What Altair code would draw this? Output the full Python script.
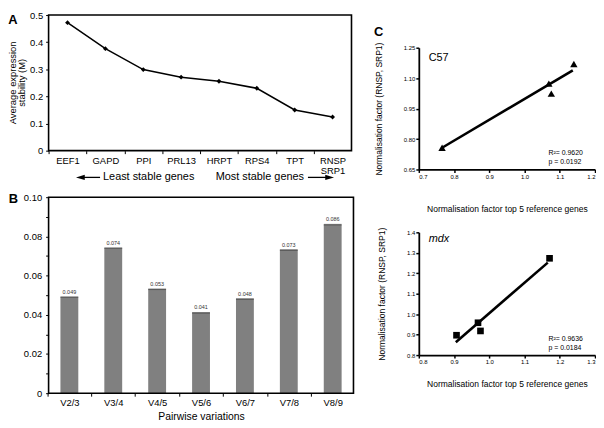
import altair as alt
import pandas as pd

FONT = "Liberation Sans"

# ---------------- Panel A data ----------------
genes = ["EEF1", "GAPD", "PPI", "PRL13", "HRPT", "RPS4", "TPT", "RNSP SRP1"]
stability = [0.472, 0.376, 0.299, 0.271, 0.256, 0.230, 0.150, 0.124]
a_ticks = [0, 0.1, 0.2, 0.3, 0.4, 0.5]

# ---------------- Panel B data ----------------
pairs = ["V2/3", "V3/4", "V4/5", "V5/6", "V6/7", "V7/8", "V8/9"]
pairwise = [0.049, 0.074, 0.053, 0.041, 0.048, 0.073, 0.086]
pair_text = ["0.049", "0.074", "0.053", "0.041", "0.048", "0.073", "0.086"]
b_ticks = [0, 0.01, 0.02, 0.03, 0.04, 0.05, 0.06, 0.07, 0.08, 0.09, 0.10]

# ---------------- Panel C data ----------------
c57_x = [1.140, 1.069, 1.076, 0.766]
c57_y = [1.170, 1.073, 1.024, 0.757]
c57_fit_x = [0.766, 1.137]
c57_fit_y = [0.757, 1.138]
c57_xticks = [0.7, 0.8, 0.9, 1.0, 1.1, 1.2]
c57_yticks = [0.65, 0.80, 0.95, 1.10, 1.25]

mdx_x = [0.907, 0.968, 0.975, 1.171]
mdx_y = [0.897, 0.958, 0.918, 1.273]
mdx_fit_x = [0.905, 1.166]
mdx_fit_y = [0.863, 1.252]
mdx_xticks = [0.8, 0.9, 1.0, 1.1, 1.2, 1.3]
mdx_yticks = [0.8, 0.9, 1.0, 1.1, 1.2, 1.3, 1.4]

one = pd.DataFrame({"t": [""]})


def label(text, x, y, size, bold=False, italic=False, align="left", color="black", angle=0):
    return alt.Chart(pd.DataFrame({"t": [text]})).mark_text(
        align=align, baseline="middle", fontSize=size, font=FONT,
        fontWeight="bold" if bold else "normal", angle=angle,
        fontStyle="italic" if italic else "normal", color=color,
    ).encode(x=alt.value(x), y=alt.value(y), text="t:N")


def frame(w, h):
    return alt.Chart(one).mark_rect(filled=False, stroke="black", strokeWidth=1.6).encode(
        x=alt.value(0), x2=alt.value(w), y=alt.value(0), y2=alt.value(h))


# ---------------- Panel A ----------------
A_W, A_H = 306, 137
a_step = A_W / len(genes)
dfA = pd.DataFrame({"gene": genes, "M": stability})
xA = alt.X(
    "gene:N", sort=genes, scale=alt.Scale(type="point", padding=0.5),
    axis=alt.Axis(
        title=None, labelAngle=0, labelFontSize=9.5, labelColor="black", labelPadding=2,
        labelLineHeight=10.5, tickSize=3, tickColor="black", tickOffset=-a_step / 2,
        labelOffset=a_step / 2, domain=False, labelFont=FONT,
        labelExpr="datum.value == 'RNSP SRP1' ? ['RNSP', 'SRP1'] : datum.label",
    ),
)
yA = alt.Y(
    "M:Q", scale=alt.Scale(domain=[0, 0.5], nice=False),
    axis=alt.Axis(
        values=a_ticks, labelExpr="datum.value == 0 ? '0' : format(datum.value, '.1f')",
        title=None, labelFont=FONT,
        labelFontSize=9.5, labelColor="black", tickSize=3, tickColor="black",
        domain=False, grid=False, labelPadding=3,
    ),
)
lineA = alt.Chart(dfA).mark_line(color="black", strokeWidth=1.5).encode(x=xA, y=yA)
ptsA = alt.Chart(dfA).mark_point(shape="diamond", filled=True, color="black",
                                 size=24, opacity=1).encode(x=xA, y=yA)
ay = A_H + 27
arrowL_line = alt.Chart(one).mark_rule(color="black", strokeWidth=1.3).encode(
    x=alt.value(35), x2=alt.value(52), y=alt.value(ay))
arrowL_head = alt.Chart(one).mark_point(shape="M-1.5,0L1,-0.75L1,0.75Z", filled=True,
                                        color="black", size=50, opacity=1).encode(
    x=alt.value(33), y=alt.value(ay))
arrowR_line = alt.Chart(one).mark_rule(color="black", strokeWidth=1.3).encode(
    x=alt.value(262), x2=alt.value(281), y=alt.value(ay))
arrowR_head = alt.Chart(one).mark_point(shape="M1.5,0L-1,-0.75L-1,0.75Z", filled=True,
                                        color="black", size=50, opacity=1).encode(
    x=alt.value(283), y=alt.value(ay))
chartA = alt.layer(
    frame(A_W, A_H), lineA, ptsA,
    arrowL_line, arrowL_head, arrowR_line, arrowR_head,
    label("Least stable genes", 55, ay, 11),
    label("Most stable genes", 258, ay, 11, align="right"),
    label("Average  expression", -35.5, A_H / 2, 9.5, align="center", angle=270),
    label("stability (M)", -26.5, A_H / 2, 9.5, align="center", angle=270),
    label("A", -36, 5.5, 13, bold=True, align="center"),
).properties(width=A_W, height=A_H)

# ---------------- Panel B ----------------
B_W, B_H = 308, 198
pi, po = 0.593, 0.27
b_step = B_W / (len(pairs) - pi + 2 * po)
b_bw = b_step * (1 - pi)
dfB = pd.DataFrame({"pair": pairs, "V": pairwise, "lab": pair_text})
xB = alt.X(
    "pair:N", sort=pairs, scale=alt.Scale(type="band", paddingInner=pi, paddingOuter=po),
    axis=alt.Axis(
        title="Pairwise variations", titleFontSize=10.5, titleFontWeight="normal",
        titleColor="black", titlePadding=5, labelAngle=0, labelFontSize=9.5,
        labelColor="black", labelPadding=1, tickSize=3, tickColor="black",
        tickOffset=-b_step / 2, labelOffset=b_step / 2, domain=False,
        titleFont=FONT, labelFont=FONT,
    ),
)
yB = alt.Y(
    "V:Q", scale=alt.Scale(domain=[0, 0.10], nice=False),
    axis=alt.Axis(
        values=b_ticks,
        labelExpr="round(datum.value * 100) % 2 == 0 ? (datum.value == 0 ? '0' : format(datum.value, '.2f')) : ''",
        title=None, labelFontSize=9.5, labelColor="black", tickSize=3, tickColor="black",
        domain=False, grid=False, labelPadding=4, labelFont=FONT,
    ),
)
bars = alt.Chart(dfB).mark_bar(color="#808080").encode(x=xB, y=yB)
tops = alt.Chart(dfB).mark_tick(color="#3c3c3c", thickness=1.5, size=b_bw).encode(x=xB, y=yB)
vals = alt.Chart(dfB).mark_text(fontSize=5.5, dy=-5.5, baseline="middle", color="#333333",
                                font=FONT).encode(x=xB, y=yB, text="lab:N")
chartB = alt.layer(
    bars, tops, vals, frame(B_W, B_H),
    label("B", -35.5, 1.5, 13, bold=True, align="center"),
).properties(width=B_W, height=B_H)

# ---------------- Panel C ----------------
C_W = 178
c_axis = dict(domainColor="black", domainWidth=1.8, tickColor="black", tickWidth=1.5,
              tickSize=3, labelFontSize=6, labelColor="black", labelPadding=1,
              titleFontSize=8.6, titleFontWeight="normal", titleColor="black",
              grid=False, labelFont=FONT, titleFont=FONT)


def scatter(xs, ys, fx, fy, xdom, ydom, xt, yt, yfmt, shape, size, h, extras, r2, p, xpad):
    df = pd.DataFrame({"x": xs, "y": ys})
    dff = pd.DataFrame({"x": fx, "y": fy})
    X = alt.X("x:Q", scale=alt.Scale(domain=xdom, nice=False, zero=False),
              axis=alt.Axis(values=xt, format=".1f",
                            title="Normalisation factor top 5 reference genes",
                            titlePadding=xpad, **c_axis))
    Y = alt.Y("y:Q", scale=alt.Scale(domain=ydom, nice=False, zero=False),
              axis=alt.Axis(values=yt, format=yfmt,
                            title="Normalisation factor (RNSP, SRP1)",
                            titlePadding=20, **c_axis))
    fit = alt.Chart(dff).mark_line(color="black", strokeWidth=2.6).encode(x=X, y=Y)
    pts = alt.Chart(df).mark_point(shape=shape, filled=True, color="black", size=size,
                                   opacity=1).encode(x=X, y=Y)
    return alt.layer(
        fit, pts, *extras,
        label(r2, 131, h * 0.866, 7),
        label(p, 131, h * 0.94, 7),
    ).properties(width=C_W, height=h)


C1_H = 123
chartC1 = scatter(c57_x, c57_y, c57_fit_x, c57_fit_y, [0.7, 1.2], [0.65, 1.25],
                  c57_xticks, c57_yticks, ".2f", "triangle-up", 55, C1_H,
                  [label("C57", 10, 10, 11),
                   label("C", -40.5, -15.5, 13, bold=True, align="center")],
                  "R\u00b2= 0.9620", "p = 0.0192", 25.5)
C2_H = 124
chartC2 = scatter(mdx_x, mdx_y, mdx_fit_x, mdx_fit_y, [0.8, 1.3], [0.8, 1.4],
                  mdx_xticks, mdx_yticks, ".1f", "square", 45, C2_H,
                  [label("mdx", 10, 7, 11, italic=True)],
                  "R\u00b2= 0.9636", "p = 0.0184", 15)

spacer = label("", 0, 0, 1).properties(width=C_W, height=6)

left = alt.vconcat(chartA, chartB, spacing=10)
right = alt.vconcat(spacer, alt.vconcat(chartC1, chartC2, spacing=12.5), spacing=5)

chart = alt.hconcat(left, right, spacing=19).properties(padding=0).configure(
    font=FONT).configure_view(strokeWidth=0)

chart.save("out.html", embed_options={"renderer": "svg", "actions": False})
